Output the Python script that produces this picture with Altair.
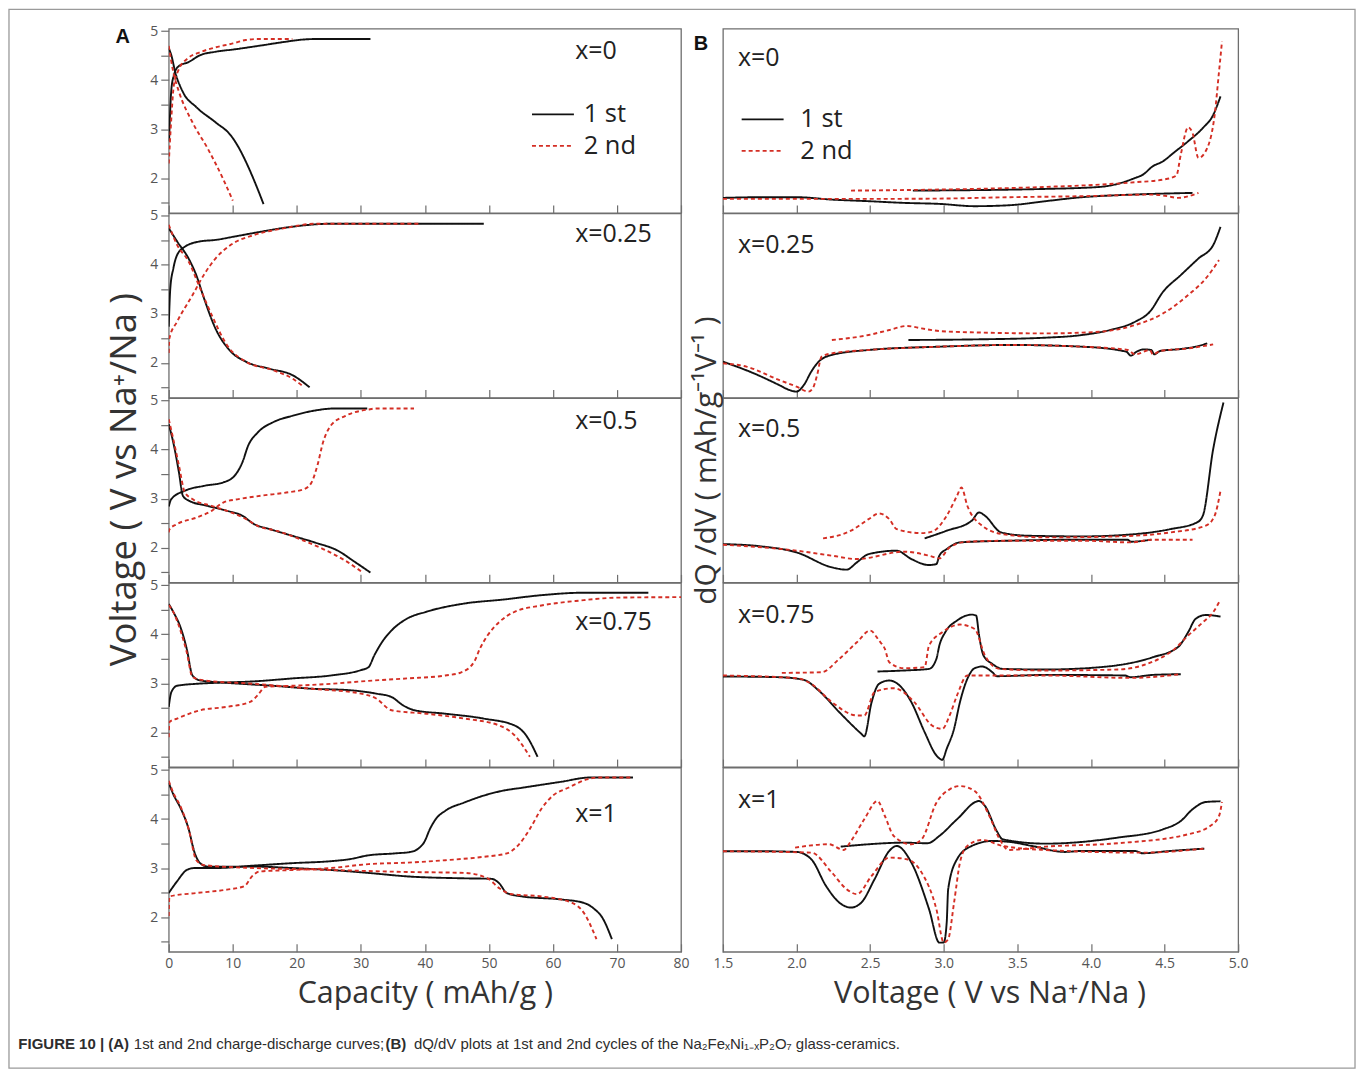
import altair as alt
import pandas as pd

# ---------------- data: (A) capacity [mAh/g] vs voltage [V] ----------------
A0_1_CHG = [(0.05, 2.75), (0.2, 3.3), (0.4, 3.8), (0.8, 4.1), (1.5, 4.28), (3.1, 4.37), (4.9, 4.51), (7.3, 4.58), (10.3, 4.63), (14.5, 4.71), (18, 4.78), (21, 4.83), (23, 4.84), (31.5, 4.84)]
A0_1_DIS = [(0, 4.65), (0.4, 4.51), (1.0, 4.17), (2.2, 3.76), (4.3, 3.45), (7.3, 3.14), (9.7, 2.87), (10.9, 2.63), (12.1, 2.32), (13.5, 1.9), (14.8, 1.47)]
A0_2_CHG = [(0, 2.3), (0.3, 3.0), (0.8, 3.9), (1.5, 4.2), (3.0, 4.45), (4.5, 4.55), (7, 4.66), (10, 4.75), (12, 4.82), (14, 4.84), (19.3, 4.84)]
A0_2_DIS = [(0, 4.7), (0.7, 4.17), (1.6, 3.76), (3.7, 3.14), (6.1, 2.6), (8.5, 1.98), (10.0, 1.54)]

A1_1_CHG = [(0, 2.74), (0.24, 3.52), (0.72, 3.93), (1.3, 4.2), (2.5, 4.37), (4.9, 4.48), (7.3, 4.51), (10.3, 4.58), (14.5, 4.68), (19.3, 4.78), (25.3, 4.84), (49.2, 4.84)]
A1_1_DIS = [(0, 4.75), (1.3, 4.48), (3.1, 4.13), (4.3, 3.79), (5.5, 3.32), (7.3, 2.7), (9.7, 2.23), (12.1, 2.02), (15.7, 1.88), (19.3, 1.75), (22, 1.5)]
A1_2_CHG = [(0, 2.2), (0.1, 2.5), (1.3, 2.84), (3.7, 3.38), (5.5, 3.8), (7.3, 4.13), (9.7, 4.41), (13.3, 4.61), (18.1, 4.75), (22.9, 4.84), (39, 4.84)]
A1_2_DIS = [(0, 4.82), (1.3, 4.41), (3.1, 4.07), (4.9, 3.52), (6.7, 2.98), (9.1, 2.36), (12.1, 2.02), (16.3, 1.85), (19.3, 1.68), (21.1, 1.51)]

A2_1_CHG = [(0, 2.84), (0.4, 2.99), (2.5, 3.16), (5.5, 3.26), (8.5, 3.33), (10.3, 3.47), (11.5, 3.74), (12.4, 4.08), (13.9, 4.35), (16.3, 4.56), (19.3, 4.69), (22.9, 4.8), (25.9, 4.84), (31.0, 4.84)]
A2_1_DIS = [(0, 4.52), (0.7, 4.15), (1.6, 3.53), (2.2, 3.06), (3.1, 2.96), (6.1, 2.85), (9.1, 2.75), (11.5, 2.65), (13.3, 2.48), (15.7, 2.38), (19.3, 2.24), (22.9, 2.1), (26.5, 1.93), (28.8, 1.73), (31.5, 1.49)]
A2_2_CHG = [(0, 2.31), (0.1, 2.37), (1.3, 2.48), (4.3, 2.61), (6.7, 2.75), (8.5, 2.92), (10.9, 2.99), (14.5, 3.06), (18.7, 3.13), (21.1, 3.19), (22.3, 3.33), (23.2, 3.67), (24.1, 4.15), (25.3, 4.49), (27.6, 4.69), (31.2, 4.82), (32.4, 4.84), (38.3, 4.84)]
A2_2_DIS = [(0, 4.62), (0.7, 4.22), (1.6, 3.67), (2.5, 3.13), (3.7, 2.99), (6.7, 2.85), (9.7, 2.72), (12.1, 2.58), (13.9, 2.44), (16.9, 2.34), (20.5, 2.17), (24.1, 1.97), (27.6, 1.73), (30.3, 1.49)]

A3_1_CHG = [(0, 2.52), (0.4, 2.82), (1.3, 2.95), (4.3, 2.99), (7.3, 3.01), (13.3, 3.04), (19.3, 3.1), (25.3, 3.16), (30, 3.27), (31.2, 3.33), (32.1, 3.57), (33.3, 3.84), (34.8, 4.08), (37.2, 4.32), (40.2, 4.46), (46.2, 4.63), (52.2, 4.71), (58.2, 4.8), (64.7, 4.85), (74.9, 4.85)]
A3_1_DIS = [(0, 4.62), (0.7, 4.46), (1.9, 4.12), (2.8, 3.71), (3.7, 3.16), (4.9, 3.06), (9.1, 3.01), (16.3, 2.95), (22.3, 2.89), (28.2, 2.86), (32.4, 2.79), (34.8, 2.72), (36.6, 2.55), (38.4, 2.45), (43.2, 2.38), (49.2, 2.28), (54, 2.14), (55.8, 1.94), (57.6, 1.5)]
A3_2_CHG = [(0, 1.9), (0.1, 2.21), (1.3, 2.28), (4.9, 2.45), (9.1, 2.52), (12.7, 2.62), (13.9, 2.76), (15.1, 2.93), (19.3, 2.95), (25.3, 2.99), (31.2, 3.05), (37.2, 3.1), (43.2, 3.16), (45.6, 3.22), (47.7, 3.44), (48.6, 3.71), (49.8, 3.98), (51.6, 4.25), (54, 4.46), (58.2, 4.59), (64.2, 4.69), (70.1, 4.75), (80, 4.76)]
A3_2_DIS = [(0, 4.6), (0.7, 4.46), (1.9, 4.05), (2.8, 3.64), (3.7, 3.13), (5.5, 3.06), (13.3, 2.99), (22.3, 2.89), (30, 2.79), (32.4, 2.69), (34.8, 2.45), (40.2, 2.38), (46.2, 2.28), (51.6, 2.14), (54, 1.94), (56.4, 1.5)]

A4_1_CHG = [(0, 2.49), (1.3, 2.73), (2.8, 2.96), (4, 3.0), (7.3, 3.0), (13.3, 3.05), (19.3, 3.1), (25.3, 3.14), (28.2, 3.18), (31.2, 3.26), (35.4, 3.3), (37.8, 3.33), (39, 3.4), (39.9, 3.53), (40.8, 3.8), (41.7, 4.0), (43.2, 4.17), (46.2, 4.34), (49.2, 4.48), (52.2, 4.58), (55.2, 4.64), (61.2, 4.76), (65.9, 4.85), (72.5, 4.85)]
A4_1_DIS = [(0, 4.74), (0.7, 4.51), (1.9, 4.21), (3.1, 3.8), (4, 3.33), (4.9, 3.1), (6.1, 3.03), (13.3, 3.03), (19.3, 3.0), (25.3, 2.96), (31.2, 2.9), (37.2, 2.83), (46.2, 2.79), (50.4, 2.78), (51.6, 2.69), (52.8, 2.49), (55.2, 2.42), (61.2, 2.36), (64.8, 2.29), (66.5, 2.16), (67.7, 1.99), (69.2, 1.55)]
A4_2_CHG = [(0, 2.02), (0.1, 2.42), (4.3, 2.49), (9.1, 2.56), (11.8, 2.63), (13, 2.83), (14.2, 2.93), (19.3, 2.96), (25.3, 3.0), (31.2, 3.08), (37.2, 3.11), (43.2, 3.16), (49.2, 3.23), (52.8, 3.3), (54.6, 3.47), (56.4, 3.8), (58.2, 4.21), (60, 4.48), (62.4, 4.64), (65.3, 4.81), (67.1, 4.85), (72.5, 4.85)]
A4_2_DIS = [(0, 4.78), (0.7, 4.54), (1.9, 4.24), (3.1, 3.8), (4.3, 3.16), (5.5, 3.06), (13.3, 3.0), (19.3, 2.98), (25.3, 2.96), (37.2, 2.92), (46.2, 2.9), (49.8, 2.79), (51.6, 2.59), (53.4, 2.47), (58.2, 2.42), (63, 2.29), (64.8, 2.09), (66.8, 1.55)]

# ---------------- data: (B) voltage [V] vs dQ/dV [arb. units] ----------------
B0_1_CHG = [(2.79, 22.3), (3.69, 24), (4.06, 26), (4.18, 29), (4.3, 35), (4.35, 38), (4.42, 46.7), (4.49, 51.7), (4.56, 60), (4.66, 71.7), (4.76, 85), (4.83, 98), (4.88, 116.7)]
B0_1_DIS = [(4.69, 20), (4.42, 19), (4.18, 17.7), (3.94, 15.7), (3.69, 11.7), (3.45, 7.7), (3.21, 6.7), (2.97, 9), (2.73, 10), (2.49, 11.7), (2.24, 13.3), (2.0, 15.7), (1.76, 15.7), (1.5, 15)]
B0_2_CHG = [(2.37, 22.3), (3.69, 26), (4.06, 28.3), (4.3, 30.7), (4.49, 33.3), (4.58, 37.3), (4.61, 58.3), (4.66, 85.7), (4.69, 80), (4.73, 55), (4.79, 65), (4.84, 98), (4.87, 141.7), (4.89, 171.7)]
B0_2_DIS = [(4.73, 20), (4.59, 15), (4.52, 16.7), (4.42, 18.3), (3.94, 16.7), (3.45, 15.7), (2.97, 14.3), (2.49, 14), (2.0, 14), (1.5, 14)]

B1_1_CHG = [(2.76, 57.7), (3.21, 58.3), (3.69, 60), (3.94, 62.7), (4.13, 67.7), (4.3, 76), (4.4, 86), (4.49, 106), (4.61, 122.7), (4.73, 139.3), (4.83, 152.7), (4.88, 171)]
B1_1_DIS = [(4.79, 54.3), (4.71, 51), (4.61, 48.7), (4.47, 46.7), (4.43, 43.3), (4.41, 47.7), (4.36, 48.3), (4.31, 46), (4.27, 42), (4.24, 46), (3.94, 51), (3.45, 52.7), (2.97, 51), (2.49, 47.7), (2.24, 42.7), (2.15, 36), (2.1, 26), (2.05, 12.7), (2.0, 6), (1.95, 7.7), (1.88, 12.7), (1.71, 24.3), (1.5, 36)]
B1_2_CHG = [(2.24, 57.7), (2.49, 62.7), (2.63, 67.7), (2.75, 71.7), (2.85, 69.3), (2.97, 66.7), (3.21, 65.3), (3.69, 64.3), (4.06, 66), (4.3, 72.7), (4.49, 84.3), (4.66, 102.7), (4.78, 119.3), (4.87, 137.7)]
B1_2_DIS = [(4.83, 53.3), (4.66, 49.3), (4.47, 46.7), (4.42, 43.3), (4.4, 47.7), (4.3, 43.3), (4.25, 47.7), (3.94, 51), (3.45, 52.7), (2.97, 51), (2.49, 47.7), (2.24, 44.3), (2.17, 41), (2.14, 22.7), (2.11, 9.3), (2.08, 6), (2.0, 11), (1.88, 17.7), (1.66, 31), (1.5, 34.3)]

B2_1_CHG = [(2.87, 44), (3.02, 51.7), (3.19, 61.7), (3.24, 70), (3.28, 66.7), (3.39, 50), (3.57, 46.7), (3.94, 46), (4.3, 48.3), (4.54, 53.3), (4.72, 60), (4.76, 66.7), (4.83, 133.3), (4.9, 180)]
B2_1_DIS = [(4.41, 42.7), (4.27, 40.7), (4.25, 42.7), (3.94, 42.7), (3.45, 41.7), (3.11, 40), (3.02, 33.3), (2.97, 26.7), (2.95, 18.3), (2.9, 17.3), (2.78, 23.3), (2.68, 31.7), (2.49, 28.3), (2.41, 20), (2.34, 12.7), (2.24, 15), (2.0, 30), (1.76, 36), (1.5, 38.3)]
B2_2_CHG = [(2.18, 44), (2.37, 51.7), (2.49, 63.3), (2.56, 69), (2.63, 63.3), (2.68, 53.3), (2.85, 49.3), (2.92, 50.7), (3.02, 66.7), (3.09, 86.7), (3.12, 95), (3.16, 76.7), (3.26, 56.7), (3.4, 48.3), (3.69, 45), (4.18, 46), (4.54, 50), (4.78, 56.7), (4.84, 66.7), (4.88, 91.7)]
B2_2_DIS = [(4.69, 42.7), (4.42, 42.7), (4.27, 40), (3.94, 41.7), (3.45, 41.7), (3.16, 40.7), (3.04, 35), (2.97, 24), (2.9, 26.7), (2.73, 30.7), (2.41, 23.3), (2.24, 26.7), (2.0, 31.7), (1.5, 37.7)]

B3_1_CHG = [(2.55, 95.7), (2.73, 96.7), (2.9, 98.3), (2.95, 108.3), (2.97, 121.7), (3.01, 135), (3.09, 146.7), (3.19, 152.7), (3.22, 151.7), (3.24, 131.7), (3.27, 111.7), (3.33, 103.3), (3.4, 98.3), (3.69, 97.7), (4.06, 100), (4.42, 110), (4.59, 120), (4.66, 135), (4.71, 148.3), (4.78, 152.3), (4.88, 150.7)]
B3_1_DIS = [(4.61, 93), (4.42, 92.3), (4.27, 90), (4.23, 91.7), (3.69, 92.3), (3.36, 91), (3.33, 95), (3.26, 100.7), (3.21, 99), (3.16, 88.3), (3.11, 65), (3.07, 38.3), (3.02, 18.3), (2.99, 7.3), (2.95, 11.7), (2.87, 35), (2.78, 65), (2.7, 81.7), (2.63, 86.7), (2.56, 83.3), (2.51, 65), (2.46, 30.7), (2.44, 33.3), (2.29, 55), (2.15, 76.7), (2.05, 87.3), (1.88, 90), (1.5, 90.7)]
B3_2_CHG = [(1.9, 94.3), (2.17, 95), (2.29, 108.3), (2.41, 125), (2.5, 136.7), (2.56, 126.7), (2.6, 118.3), (2.63, 105), (2.73, 99), (2.87, 100), (2.9, 121.7), (2.99, 135), (3.11, 142.7), (3.21, 138.3), (3.28, 111.7), (3.38, 98.3), (3.69, 96.7), (4.18, 97.7), (4.54, 115), (4.66, 131.7), (4.76, 145), (4.83, 155), (4.87, 165)]
B3_2_DIS = [(4.61, 93), (4.27, 89.3), (3.69, 91.7), (3.21, 91.7), (3.16, 91.7), (3.09, 71.7), (3.04, 51.7), (2.99, 38.3), (2.92, 41.7), (2.8, 65), (2.66, 79), (2.53, 75), (2.46, 51.7), (2.41, 51.7), (2.24, 65), (2.1, 83.3), (2.0, 89), (1.5, 91.7)]

B4_1_CHG = [(2.3, 105.3), (2.49, 107.7), (2.73, 109.3), (2.89, 108.7), (2.97, 116), (3.09, 132.7), (3.24, 151), (3.28, 146), (3.36, 121), (3.4, 112.7), (3.69, 108.3), (4.18, 114.3), (4.49, 122.7), (4.61, 131), (4.69, 142.7), (4.78, 150), (4.88, 150.7)]
B4_1_DIS = [(4.77, 103.3), (4.54, 101), (4.35, 98.7), (4.3, 101), (3.94, 101), (3.82, 100), (3.6, 106), (3.45, 110), (3.33, 111), (3.19, 106), (3.09, 92.7), (3.03, 62.7), (3.02, 29.3), (3.0, 9.3), (2.97, 9.2), (2.9, 42.7), (2.78, 89.3), (2.68, 106), (2.63, 101), (2.53, 72.7), (2.44, 49.3), (2.37, 44.3), (2.29, 49.3), (2.2, 66), (2.1, 92.7), (2.0, 100), (1.76, 100.7), (1.5, 100.7)]
B4_2_CHG = [(1.99, 104.3), (2.22, 107.7), (2.32, 102), (2.37, 111), (2.46, 132.7), (2.55, 151), (2.6, 136), (2.66, 116), (2.78, 107.7), (2.85, 112.7), (2.95, 149.3), (3.04, 162.7), (3.11, 166), (3.21, 161), (3.31, 136), (3.38, 112.7), (3.44, 102), (3.69, 105.3), (4.18, 108.7), (4.66, 117.7), (4.81, 126), (4.87, 136), (4.89, 150)]
B4_2_DIS = [(4.77, 103.3), (4.35, 99.3), (3.69, 102), (3.4, 106), (3.26, 112), (3.16, 106), (3.11, 89.3), (3.07, 49.3), (3.03, 12.7), (3.0, 9.3), (2.95, 42.7), (2.85, 79.3), (2.75, 92.7), (2.63, 94.3), (2.51, 76), (2.41, 57.7), (2.34, 62.7), (2.24, 79.3), (2.1, 99.3), (1.5, 100.7)]

PANEL_LABELS = ["x=0", "x=0.25", "x=0.5", "x=0.75", "x=1"]
CYCLES = ["1 st", "2 nd"]
A_SETS = [(A0_1_CHG, A0_1_DIS, A0_2_CHG, A0_2_DIS), (A1_1_CHG, A1_1_DIS, A1_2_CHG, A1_2_DIS),
          (A2_1_CHG, A2_1_DIS, A2_2_CHG, A2_2_DIS), (A3_1_CHG, A3_1_DIS, A3_2_CHG, A3_2_DIS),
          (A4_1_CHG, A4_1_DIS, A4_2_CHG, A4_2_DIS)]
B_SETS = [(B0_1_CHG, B0_1_DIS, B0_2_CHG, B0_2_DIS), (B1_1_CHG, B1_1_DIS, B1_2_CHG, B1_2_DIS),
          (B2_1_CHG, B2_1_DIS, B2_2_CHG, B2_2_DIS), (B3_1_CHG, B3_1_DIS, B3_2_CHG, B3_2_DIS),
          (B4_1_CHG, B4_1_DIS, B4_2_CHG, B4_2_DIS)]
CAP_TICKS = [0, 10, 20, 30, 40, 50, 60, 70, 80]
VOLT_TICKS = [1.5, 2.0, 2.5, 3.0, 3.5, 4.0, 4.5, 5.0]
V_AXIS_TICKS = [1.5, 2.0, 2.5, 3.0, 3.5, 4.0, 4.5, 5.0]
CAPTION = ["FIGURE 10 | (A)", "1st and 2nd charge-discharge curves;", "(B)",
           "dQ/dV plots at 1st and 2nd cycles of the Na\u2082Fe\u2093Ni\u2081\u208b\u2093P\u2082O\u2087 glass-ceramics."]

# ---------------- styling ----------------
FONT = "Open Sans"
BLACK = "#111111"
RED = "#d42e24"
GRAY = "#6e6e6e"
H = 184.4
WL = 513
WR = 516
LABEL_Y_A = [22, 21, 23, 39, 46]
LABEL_Y_B = [29, 31.5, 31, 32, 32]

color_scale = alt.Scale(domain=CYCLES, range=[BLACK, RED])
dash_scale = alt.Scale(domain=CYCLES, range=[[1, 0], [4, 3]])


def curves_df(c1, d1, c2, d2):
    rows = []
    for cyc, br, pts in (("1 st", "chg", c1), ("1 st", "dis", d1), ("2 nd", "chg", c2), ("2 nd", "dis", d2)):
        for a, b in pts:
            rows.append({"x": a, "y": b, "cycle": cyc, "branch": br})
    return pd.DataFrame(rows)


def make_legend(lx, ly, off):
    return alt.Legend(orient="none", legendX=lx, legendY=ly, title=None, symbolType="M-3,0H3",
                      symbolSize=196, symbolStrokeWidth=1.8, labelFontSize=25.5, labelFont=FONT,
                      labelColor="#222222", labelOffset=off, rowPadding=4.5, padding=0, labelLimit=300)


def txt(text, x, y, size, weight="normal", font=FONT, color="#222222", align="left"):
    return alt.Chart(pd.DataFrame({"t": [text]})).mark_text(
        align=align, baseline="middle", fontSize=size, fontWeight=weight, font=font, color=color
    ).encode(x=alt.value(x), y=alt.value(y), text="t:N")


def panel(k, side):
    df = curves_df(*(A_SETS[k] if side == "A" else B_SETS[k]))
    last = k == 4
    if side == "A":
        xsc = alt.Scale(domain=[0, 80], nice=False, zero=False)
        ysc = alt.Scale(domain=[1.29, 5.05], nice=False, zero=False)
        xvals, xfmt = CAP_TICKS, "d"
        ax_kw = dict(orient="left", values=V_AXIS_TICKS,
                     labelExpr="datum.value % 1 == 0 ? '' + datum.value : ''",
                     tickSize=8, tickColor=GRAY, tickWidth=1.2, domain=False, grid=False,
                     labelFontSize=14, labelColor="#555555", labelFont=FONT, labelPadding=3)
        if k == 2:
            ax_kw.update(title="Voltage ( V vs Na\u207a/Na )", titleFontSize=36.5, titleFont=FONT,
                         titleFontWeight="normal", titleColor="#333333", titlePadding=6, titleY=81)
        else:
            ax_kw.update(title=None)
        yaxis = alt.Axis(**ax_kw)
        xtitle = "Capacity ( mAh/g )"
        title_x = WL / 2
        w = WL
    else:
        xsc = alt.Scale(domain=[1.5, 5.0], nice=False, zero=False)
        ysc = alt.Scale(domain=[0, H], nice=False, zero=False)
        xvals, xfmt = VOLT_TICKS, ".1f"
        ax_kw = dict(orient="left", ticks=False, labels=False, domain=False, grid=False)
        if k == 2:
            ax_kw.update(title="dQ /dV ( mAh/g\u207b\u00b9V\u207b\u00b9 )", titleFontSize=30, titleFont=FONT,
                         titleFontWeight="normal", titleColor="#333333", titlePadding=1, titleY=62)
        else:
            ax_kw.update(title=None)
        yaxis = alt.Axis(**ax_kw)
        xtitle = "Voltage ( V vs Na\u207a/Na )"
        title_x = WR / 2 + 9
        w = WR

    # bottom axis drawn 8px inside the panel so that its ticks point upward into the plot
    bx_kw = dict(orient="bottom", values=xvals, format=xfmt, offset=-8, tickSize=8, tickColor=GRAY,
                 tickWidth=1.2, domain=False, grid=False, labels=last, labelFontSize=14,
                 labelColor="#555555", labelFont=FONT, labelPadding=5, labelFlush=False,
                 labelOverlap=False)
    if last:
        bx_kw.update(title=xtitle, titleFontSize=30.5, titleFont=FONT, titleFontWeight="normal",
                     titleColor="#333333", titlePadding=8, titleX=title_x)
    else:
        bx_kw.update(title=None)

    if k == 0:
        leg = make_legend(372, 73, 18) if side == "A" else make_legend(27, 78, 25)
    else:
        leg = None

    lines = alt.Chart(df).mark_line(strokeWidth=1.9, interpolate="monotone", clip=True).encode(
        x=alt.X("x:Q", scale=xsc, axis=alt.Axis(**bx_kw)),
        y=alt.Y("y:Q", scale=ysc, axis=yaxis),
        color=alt.Color("cycle:N", scale=color_scale, legend=leg),
        strokeDash=alt.StrokeDash("cycle:N", scale=dash_scale, legend=leg),
        detail="branch:N",
    )
    layers = [lines]
    if side == "A":
        layers.append(txt(PANEL_LABELS[k], 407, LABEL_Y_A[k], 25))
    else:
        layers.append(txt(PANEL_LABELS[k], 15, LABEL_Y_B[k], 25))

    if k == 0 and side == "A":
        frame = alt.Chart(pd.DataFrame({"a": [0]})).mark_rect(
            filled=False, stroke="#9a9a9a", strokeWidth=1.3
        ).encode(x=alt.value(-160), x2=alt.value(1188), y=alt.value(-19.5), y2=alt.value(1041))
        layers.append(frame)
        layers.append(txt("A", -46, 8, 20, weight="bold", font="Liberation Sans", color="#111111", align="center"))
    if k == 0 and side == "B":
        layers.append(txt("B", -22, 15, 20, weight="bold", font="Liberation Sans", color="#111111", align="center"))
    if last and side == "A":
        cy = 276.4
        layers.append(txt(CAPTION[0], -150.6, cy, 15, weight="bold", font="Liberation Sans", color="#2d2d2d"))
        layers.append(txt(CAPTION[1], -35, cy, 15, font="Liberation Sans", color="#2d2d2d"))
        layers.append(txt(CAPTION[2], 217, cy, 15, weight="bold", font="Liberation Sans", color="#2d2d2d"))
        layers.append(txt(CAPTION[3], 245.5, cy, 15, font="Liberation Sans", color="#2d2d2d"))

    return alt.layer(*layers).properties(width=w, height=H)


cells = []
for k in range(5):
    cells.append(panel(k, "A"))
    cells.append(panel(k, "B"))

chart = alt.concat(
    *cells, columns=2, spacing={"row": 0, "column": 42}, bounds="flush", align="each"
).resolve_scale(
    color="independent", strokeDash="independent"
).properties(
    padding={"left": 7, "top": 7, "right": 5, "bottom": 4},
    background="white",
).configure_view(stroke=GRAY, strokeWidth=1.3)

chart.save("out.html", embed_options={"renderer": "svg", "actions": False})
